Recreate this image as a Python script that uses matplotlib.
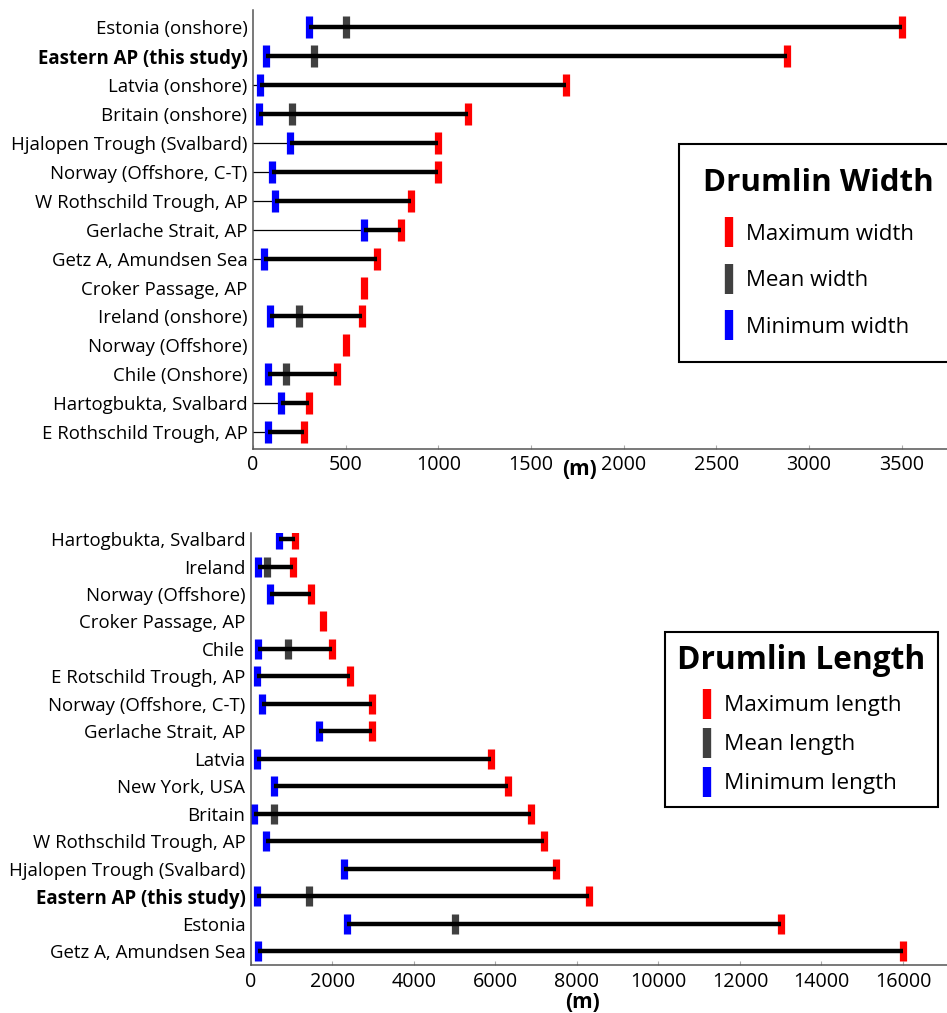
import numpy as np
import matplotlib.pyplot as plt
from matplotlib.lines import Line2D

plt.rcParams['font.family'] = ['Open Sans', 'DejaVu Sans']

nan = np.nan

# drumlin width (m), top to bottom
w_sites = ['Estonia (onshore)', 'Eastern AP (this study)', 'Latvia (onshore)',
           'Britain (onshore)', 'Hjalopen Trough (Svalbard)', 'Norway (Offshore, C-T)',
           'W Rothschild Trough, AP', 'Gerlache Strait, AP', 'Getz A, Amundsen Sea',
           'Croker Passage, AP', 'Ireland (onshore)', 'Norway (Offshore)',
           'Chile (Onshore)', 'Hartogbukta, Svalbard', 'E Rothschild Trough, AP']
w_min = [300, 70, 40, 30, 200, 100, 120, 600, 60, nan, 90, nan, 80, 150, 80]
w_mean = [500, 330, nan, 210, nan, nan, nan, nan, nan, nan, 250, nan, 180, nan, nan]
w_max = [3500, 2880, 1690, 1160, 1000, 1000, 850, 800, 670, 600, 590, 500, 455, 300, 275]
# rows that have a thin line running in from the axis
w_lead = [False, False, True, False, True, True, True, True, True,
          False, False, False, False, True, True]

# drumlin length (m), top to bottom
l_sites = ['Hartogbukta, Svalbard', 'Ireland', 'Norway (Offshore)', 'Croker Passage, AP',
           'Chile', 'E Rotschild Trough, AP', 'Norway (Offshore, C-T)', 'Gerlache Strait, AP',
           'Latvia', 'New York, USA', 'Britain', 'W Rothschild Trough, AP',
           'Hjalopen Trough (Svalbard)', 'Eastern AP (this study)', 'Estonia',
           'Getz A, Amundsen Sea']
l_min = [690, 180, 470, nan, 180, 150, 280, 1680, 140, 560, 70, 360, 2280, 160, 2360, 170]
l_mean = [nan, 400, nan, nan, 920, nan, nan, nan, nan, nan, 570, nan, nan, 1430, 5000, nan]
l_max = [1070, 1040, 1470, 1780, 1980, 2430, 2970, 2970, 5890, 6300, 6870, 7190,
         7490, 8290, 13000, 16000]

RED = '#ff0000'
GREY = '#404040'
BLUE = '#0000ff'


def draw_panel(ax, sites, vmin, vmean, vmax, msize, lead=None):
    y = np.arange(len(sites))
    vmin = np.array(vmin, dtype=float)
    vmax = np.array(vmax, dtype=float)
    if lead is not None:
        for yi, v, flag in zip(y, vmin, lead):
            if flag:
                ax.plot([0, v], [yi, yi], color='black', lw=0.9, zorder=1)
    kw = dict(linestyle='none', marker='|', markersize=msize, markeredgewidth=5.2, zorder=2)
    ax.plot(vmax, y, color=RED, **kw)
    ax.plot(vmean, y, color=GREY, **kw)
    ax.plot(vmin, y, color=BLUE, **kw)
    ok = ~np.isnan(vmin)
    ax.hlines(y[ok], vmin[ok], vmax[ok], color='black', lw=3.2, zorder=3)

    ax.set_yticks(y)
    ax.set_yticklabels(sites, fontsize=13.4)
    for lab in ax.get_yticklabels():
        if 'this study' in lab.get_text():
            lab.set_fontweight('bold')
    ax.tick_params(axis='y', length=0, pad=4)
    ax.tick_params(axis='x', direction='in', length=3, color='#aaaaaa', labelsize=14.2, pad=4)
    for s in ['top', 'right']:
        ax.spines[s].set_visible(False)
    for s in ['left', 'bottom']:
        ax.spines[s].set_color('#555555')
        ax.spines[s].set_linewidth(1.1)


fig = plt.figure(figsize=(9.47, 10.13), dpi=100)

ax1 = fig.add_axes([0.2672, 0.5565, 0.7328, 0.4336])
draw_panel(ax1, w_sites, w_min, w_mean, w_max, 16.5, lead=w_lead)
ax1.set_xlim(0, 3745)
ax1.set_ylim(len(w_sites) - 1 + 0.59, -0.59)
ax1.set_xticks(np.arange(0, 3501, 500))
ax1.set_xlabel('(m)', fontsize=15, fontweight='bold')
ax1.xaxis.set_label_coords(0.471, -0.022)

ax2 = fig.add_axes([0.2650, 0.0474, 0.7350, 0.4264])
draw_panel(ax2, l_sites, l_min, l_mean, l_max, 14.5)
ax2.set_xlim(0, 17080)
ax2.set_ylim(len(l_sites) - 1 + 0.51, -0.22)
ax2.set_xticks(np.arange(0, 16001, 2000))
ax2.tick_params(axis='x', pad=5)
ax2.set_xlabel('(m)', fontsize=15, fontweight='bold')
ax2.xaxis.set_label_coords(0.477, -0.062)


def legend_handles(word):
    mk = dict(linestyle='none', marker='|', markersize=21, markeredgewidth=6)
    return [Line2D([], [], color=RED, label='Maximum ' + word, **mk),
            Line2D([], [], color=GREY, label='Mean ' + word, **mk),
            Line2D([], [], color=BLUE, label='Minimum ' + word, **mk)]


leg1 = fig.legend(handles=legend_handles('width'), loc='upper left',
                  bbox_to_anchor=(0.717, 0.858), title='Drumlin Width',
                  title_fontproperties={'weight': 'bold', 'size': 22.5},
                  fontsize=16, fancybox=False, edgecolor='black', framealpha=1,
                  borderpad=1.1, labelspacing=1.15, handlelength=0.5,
                  handletextpad=0.5, borderaxespad=0)
leg1.get_frame().set_linewidth(1.5)

leg2 = fig.legend(handles=legend_handles('length'), loc='upper left',
                  bbox_to_anchor=(0.702, 0.376), title='Drumlin Length',
                  title_fontproperties={'weight': 'bold', 'size': 22.8},
                  fontsize=16.2, fancybox=False, edgecolor='black', framealpha=1,
                  borderpad=0.55, labelspacing=0.8, handlelength=0.5,
                  handletextpad=0.5, borderaxespad=0)
leg2.get_frame().set_linewidth(1.5)

fig.savefig('out.png', dpi=100)
